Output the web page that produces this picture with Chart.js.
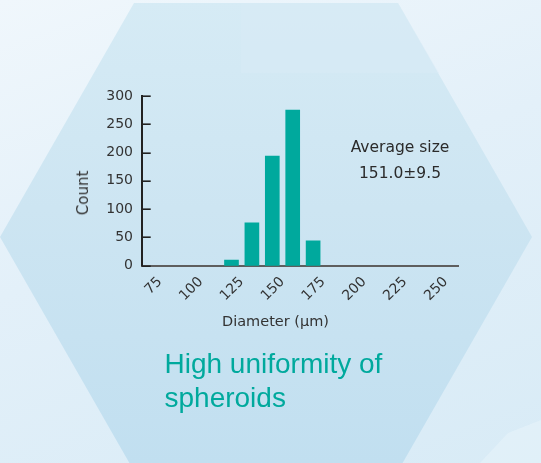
<!DOCTYPE html>
<html>
<head>
<meta charset="utf-8">
<script src="https://cdn.jsdelivr.net/npm/chart.js@4/dist/chart.umd.min.js"></script>
<style>
  html, body { margin:0; padding:0; }
  body { width:541px; height:463px; overflow:hidden; position:relative;
    background: linear-gradient(160deg, #f0f7fc 0%, #e3f0f9 45%, #d8ebf6 100%); }
  #hex { position:absolute; left:0; top:0; width:541px; height:463px;
    clip-path: polygon(0px 237px, 134px 3px, 398px 3px, 532px 237px, 398px 471px, 134px 471px);
    background: linear-gradient(180deg, #d6ebf5 0%, #cde5f2 45%, #c1dff0 100%); }
  #band { position:absolute; left:241px; top:0; width:300px; height:73px;
    clip-path: polygon(0px 3px, 157px 3px, 198px 73px, 0px 73px);
    background: rgba(218,236,246,0.45); }
  #glare { position:absolute; left:0; top:0; width:541px; height:463px;
    clip-path: polygon(480px 463px, 508px 433px, 541px 420px, 541px 463px);
    background: rgba(238,247,252,0.4); }
  #wrap { position:absolute; left:0; top:0; width:541px; height:463px; }
  .avg { position:absolute; left:340px; width:120px; text-align:center;
    font-family:'DejaVu Sans'; font-size:15.5px; line-height:26px; color:#2b2b2b; top:134.3px; }
  .cap { position:absolute; left:164.5px; top:347.3px; font-family:'Liberation Sans', Arial, sans-serif;
    font-size:28px; line-height:34px; color:#00a99d; }
  .ytitle { position:absolute; left:83px; top:193px; font-family:'DejaVu Sans'; font-size:15px;
    color:#333; transform: translate(-50%, -50%) rotate(-90deg); white-space:nowrap; line-height:18px; }
  .xtitle { position:absolute; left:275.5px; top:321px; font-family:'DejaVu Sans'; font-size:14.5px;
    color:#333; transform: translate(-50%, -50%); white-space:nowrap; line-height:18px; }
</style>
</head>
<body>
<div id="hex"></div>
<div id="band"></div>
<div id="glare"></div>
<div id="wrap"><canvas id="c" width="541" height="463"></canvas></div>
<div class="avg">Average size<br>151.0±9.5</div>
<div class="ytitle" id="yt"></div>
<div class="xtitle" id="xt"></div>
<div class="cap">High uniformity of<br>spheroids</div>
<script>
const binCenters = [118.75, 131.25, 143.75, 156.25, 168.75];
const counts = [10, 76, 194, 275, 44];
const xTickValues = [75, 100, 125, 150, 175, 200, 225, 250];
const yTickValues = [0, 50, 100, 150, 200, 250, 300];
const xTitle = 'Diameter (\u03BCm)';
const yTitle = 'Count';

document.getElementById('yt').textContent = yTitle;
document.getElementById('xt').textContent = xTitle;

Chart.defaults.font.family = 'DejaVu Sans';
Chart.defaults.color = '#333333';

const inwardTicks = {
  id: 'inwardTicks',
  afterDraw(chart) {
    const {ctx, chartArea, scales} = chart;
    const y = scales.y;
    ctx.save();
    ctx.strokeStyle = '#222222';
    ctx.lineWidth = 1.6;
    yTickValues.forEach(v => {
      const py = Math.round(y.getPixelForValue(v)) + 0.2;
      ctx.beginPath();
      ctx.moveTo(chartArea.left, py);
      ctx.lineTo(chartArea.left + 9, py);
      ctx.stroke();
    });
    ctx.restore();
  }
};

new Chart(document.getElementById('c'), {
  type: 'bar',
  data: {
    datasets: [{
      data: binCenters.map((x, i) => ({x: x, y: counts[i]})),
      backgroundColor: '#00a99d',
      borderWidth: 0,
      barThickness: 14
    }]
  },
  options: {
    responsive: false,
    animation: false,
    layout: { padding: { left: 74, right: 83, top: 96, bottom: 133 } },
    plugins: { legend: { display: false }, tooltip: { enabled: false } },
    scales: {
      x: {
        type: 'linear',
        offset: false,
        min: 63.75,
        max: 257.5,
        grid: { display: false },
        border: { display: true, color: '#5e5e5e', width: 2 },
        afterBuildTicks: s => { s.ticks = xTickValues.map(v => ({value: v})); },
        afterFit: s => { s.height = 64.3; },
        ticks: {
          minRotation: 45, maxRotation: 45, padding: 0,
          autoSkip: false,
          font: { size: 14 }, color: '#333333',
          callback: v => String(v)
        },
        title: { display: false }
      },
      y: {
        min: 0, max: 300,
        grid: { display: false, drawTicks: false },
        border: { display: true, color: '#222222', width: 2 },
        afterBuildTicks: s => { s.ticks = yTickValues.map(v => ({value: v})); },
        afterFit: s => { s.width = 67.7; },
        ticks: { padding: 8.7, font: { size: 14 }, color: '#333333' },
        title: { display: false }
      }
    }
  },
  plugins: [inwardTicks]
});
</script>
</body>
</html>
